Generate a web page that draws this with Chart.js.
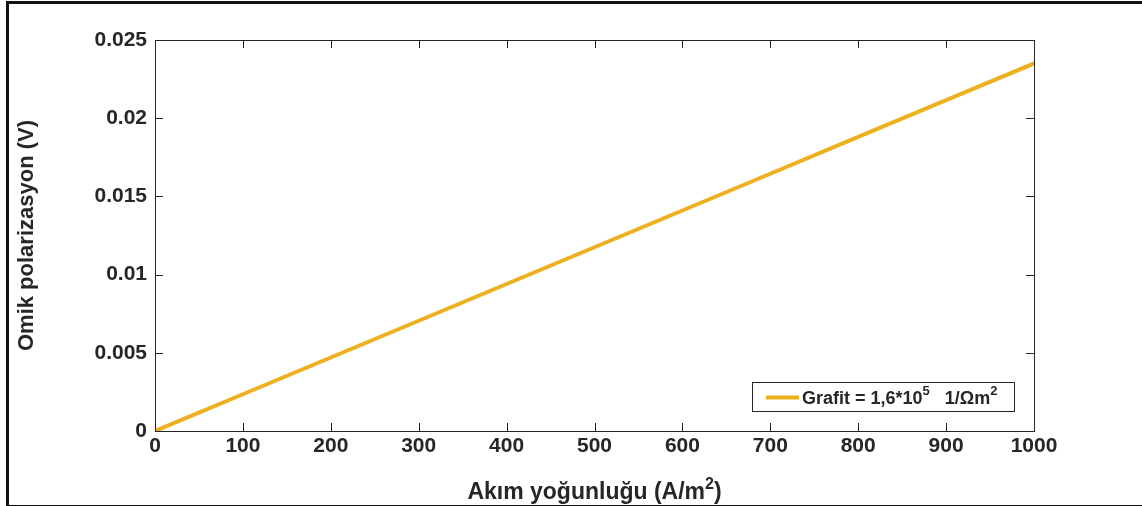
<!DOCTYPE html>
<html>
<head>
<meta charset="utf-8">
<script src="https://cdn.jsdelivr.net/npm/chart.js@4"></script>
<style>
  body { margin: 0; background: #fff; }
  #wrap { position: relative; width: 1142px; height: 506px; }
  #frame { position: absolute; left: 6px; top: 1px; width: 1142px; height: 501px;
           border-left: 3px solid #111; border-top: 3px solid #111; border-bottom: 3px solid #111; }
  canvas { position: absolute; left: 0; top: 0; }
</style>
</head>
<body>
<div id="wrap">
  <div id="frame"></div>
  <canvas id="myChart" width="1142" height="506"></canvas>
</div>
<script>
// akim yogunlugu (A/m2) ve omik polarizasyon (V)
const akim = [0, 100, 200, 300, 400, 500, 600, 700, 800, 900, 1000];
const polarizasyon = [0, 0.00235, 0.0047, 0.00705, 0.0094, 0.01175, 0.0141, 0.01645, 0.0188, 0.02115, 0.0235];
const xTicks = [0, 100, 200, 300, 400, 500, 600, 700, 800, 900, 1000];
const yTicks = [0, 0.005, 0.01, 0.015, 0.02, 0.025];
const seriesLabel = 'Grafit = 1,6*10⁵   1/Ωm²';

const renk = '#EDB120';
const yazi = '#262626';
const font = "'Liberation Sans', Arial, sans-serif";

// ust simgeli metin yazar, parcalar: [metin, boyut, kayma]
function yaz(c, parcalar, x, y, ortala) {
    let w = 0;
    parcalar.forEach(p => { c.font = 'bold ' + p[1] + 'px ' + font; w += c.measureText(p[0]).width; });
    let tx = ortala ? x - w / 2 : x;
    parcalar.forEach(p => {
        c.font = 'bold ' + p[1] + 'px ' + font;
        c.fillText(p[0], tx, y + p[2]);
        tx += c.measureText(p[0]).width;
    });
}

// MATLAB tarzi kutu ve iceri bakan tikler
const kutu = {
    id: 'kutu',
    afterDraw(chart) {
        const c = chart.ctx, a = chart.chartArea;
        const x = chart.scales.x, y = chart.scales.y;
        c.save();
        c.strokeStyle = yazi;
        c.lineWidth = 1;
        c.strokeRect(a.left + 0.5, a.top + 0.5, a.right - a.left, a.bottom - a.top);
        c.beginPath();
        xTicks.forEach(v => {
            const px = Math.round(x.getPixelForValue(v)) + 0.5;
            c.moveTo(px, a.bottom); c.lineTo(px, a.bottom - 8);
            c.moveTo(px, a.top); c.lineTo(px, a.top + 8);
        });
        yTicks.forEach(v => {
            const py = Math.round(y.getPixelForValue(v)) + 0.5;
            c.moveTo(a.left, py); c.lineTo(a.left + 8, py);
            c.moveTo(a.right, py); c.lineTo(a.right - 8, py);
        });
        c.stroke();
        // x ekseni basligi
        c.fillStyle = yazi;
        c.textBaseline = 'alphabetic';
        yaz(c, [['Akım yoğunluğu (A/m', 23, 0], ['2', 16, -10], [')', 23, 0]],
            (a.left + a.right) / 2, 499, true);
        c.restore();
    }
};

// lejant, sag alt kosede
const lejant = {
    id: 'lejant',
    afterDraw(chart) {
        const c = chart.ctx, a = chart.chartArea;
        const bx = a.right - 282, by = a.bottom - 49, bw = 262, bh = 29;
        c.save();
        c.fillStyle = '#fff';
        c.fillRect(bx, by, bw, bh);
        c.strokeStyle = yazi;
        c.lineWidth = 1;
        c.strokeRect(bx + 0.5, by + 0.5, bw, bh);
        const my = by + bh / 2 + 1;
        c.strokeStyle = renk;
        c.lineWidth = 4;
        c.beginPath();
        c.moveTo(bx + 14, my); c.lineTo(bx + 47, my);
        c.stroke();
        c.fillStyle = yazi;
        c.textBaseline = 'alphabetic';
        yaz(c, [['Grafit = 1,6*10', 18, 0], ['5', 13, -9], ['   1/Ωm', 18, 0], ['2', 13, -9]],
            bx + 50, my + 6, false);
        c.restore();
    }
};

const ctx = document.getElementById('myChart');

new Chart(ctx, {
    type: 'scatter',
    data: {
        datasets: [{
            label: seriesLabel,
            data: akim.map((v, i) => ({x: v, y: polarizasyon[i]})),
            showLine: true,
            borderColor: renk,
            borderWidth: 4,
            pointRadius: 0,
            borderCapStyle: 'round'
        }]
    },
    options: {
        responsive: false,
        animation: false,
        layout: {padding: {left: 10, right: 108, top: 40, bottom: 0}},
        plugins: {
            legend: {display: false},
            tooltip: {enabled: false}
        },
        scales: {
            x: {
                type: 'linear',
                min: 0, max: 1000,
                afterFit: s => { s.height = 75; },
                afterBuildTicks: s => { s.ticks = xTicks.map(v => ({value: v})); },
                grid: {display: false, drawTicks: false},
                border: {display: false},
                ticks: {
                    color: yazi, padding: 3,
                    font: {family: font, size: 21, weight: 'bold'},
                    maxRotation: 0,
                    callback: v => String(v)
                },
                title: {display: false}
            },
            y: {
                min: 0, max: 0.025,
                afterFit: s => { s.width = 145; },
                afterBuildTicks: s => { s.ticks = yTicks.map(v => ({value: v})); },
                grid: {display: false, drawTicks: false},
                border: {display: false},
                ticks: {
                    color: yazi, padding: 8,
                    font: {family: font, size: 21, weight: 'bold'},
                    callback: v => String(v)
                },
                title: {
                    display: true,
                    text: 'Omik polarizasyon (V)',
                    color: yazi,
                    font: {family: font, size: 22, weight: 'bold'},
                    padding: {top: 4, bottom: 0}
                }
            }
        }
    },
    plugins: [kutu, lejant]
});
</script>
</body>
</html>
